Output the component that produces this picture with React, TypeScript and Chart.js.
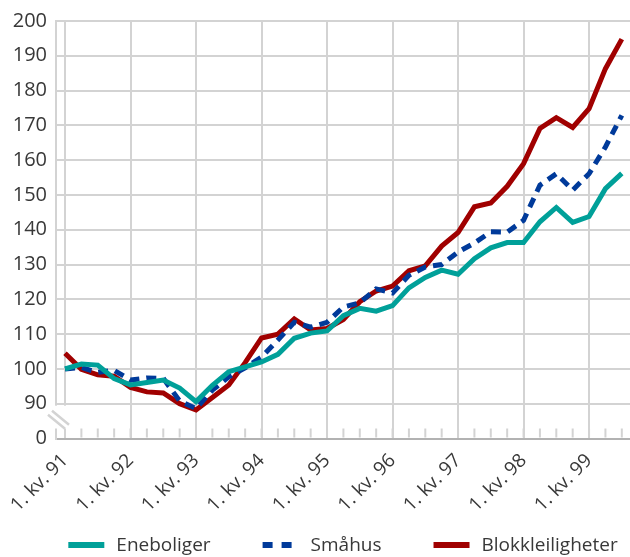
import { useEffect, useRef } from 'react';
import { Chart, registerables } from 'chart.js';

Chart.register(...registerables);

const FONT = "'Open Sans', 'Noto Sans', sans-serif";
const TEXT = '#383838';
const GRID = '#d3d3d3';
const AXIS = '#b2b2b2';

// Years on the axis (1st quarter of each year is labelled)
const years = ['91', '92', '93', '94', '95', '96', '97', '98', '99'];
const quarters = ['1', '2', '3', '4'];
// 1. kv. 91 .. 3. kv. 99 (35 quarters)
const quarterLabels = years
  .flatMap((y) => quarters.map((q) => `${q}. kv. ${y}`))
  .slice(0, 35);

const seriesNames = ['Eneboliger', 'Småhus', 'Blokkleiligheter'];
const seriesColors = ['#00a099', '#003a9a', '#a00000'];

const eneboliger = [
  100, 101.4, 101.1, 97.2, 95.4, 96.1, 96.8, 94.5, 90.6, 95.3, 99.2, 100.6,
  102, 104.2, 108.8, 110.3, 110.9, 115.3, 117.4, 116.6, 118.2, 123.3, 126.3,
  128.4, 127.2, 131.7, 134.8, 136.3, 136.3, 142.3, 146.4, 142.1, 143.8, 151.8,
  156.2,
];
const smahus = [
  100, 100.4, 99, 99.6, 96.8, 97.4, 97.3, 90.8, 88.6, 93.9, 97.7, 100.3,
  103.4, 108.3, 113.4, 112, 113.4, 117.8, 119, 123, 121.8, 126.9, 129.3, 130,
  133.6, 136.2, 139.4, 139.3, 142.7, 152.8, 156.1, 151.4, 156.1, 163.8, 172.9,
];
const blokkleiligheter = [
  104.5, 99.9, 98.3, 97.9, 94.7, 93.4, 93.1, 90, 88.2, 91.8, 95.4, 101.8,
  108.9, 110, 114.4, 111.2, 111.6, 114.2, 119.3, 122.4, 123.8, 128.2, 129.6,
  135.3, 139.2, 146.6, 147.7, 152.5, 159, 169.1, 172.2, 169.4, 174.8, 186.3,
  194.8,
];

// Y axis: broken axis, the bottom value is shown as "0"
const yMin = 80;
const yMax = 200;
const yStep = 10;
const yBreakLabel = '0';

const LEGEND_FONT_SIZE = 19;
const LEGEND_SAMPLE = 36;
const LEGEND_TEXT_GAP = 12;
const LEGEND_ITEM_GAP = 52;
const LEGEND_Y = 545;

const breakPlugin = {
  id: 'quarterTicksAndBreak',
  afterDraw(chart: any) {
    const { ctx } = chart;
    const x = chart.scales.x;
    const y = chart.scales.y;
    const bottom = y.getPixelForValue(yMin);
    const y90 = y.getPixelForValue(yMin + yStep);
    ctx.save();
    // minor quarter ticks
    ctx.strokeStyle = GRID;
    ctx.lineWidth = 2;
    quarterLabels.forEach((_, i) => {
      const px = x.getPixelForValue(i);
      ctx.beginPath();
      ctx.moveTo(px, bottom - 1);
      ctx.lineTo(px, bottom - 10);
      ctx.stroke();
    });
    // axis break
    const left = chart.chartArea.left;
    ctx.fillStyle = '#ffffff';
    ctx.fillRect(left - 8, y90 + 2, 26, bottom - 10 - (y90 + 2));
    ctx.strokeStyle = GRID;
    ctx.lineWidth = 2.5;
    ctx.beginPath();
    ctx.moveTo(left - 4, y90 + 7);
    ctx.lineTo(left + 13, y90 + 21);
    ctx.moveTo(left - 8, y90 + 11);
    ctx.lineTo(left + 9, y90 + 25);
    ctx.stroke();
    ctx.restore();
  },
};

const legendPlugin = {
  id: 'lineLegend',
  afterDraw(chart: any) {
    const { ctx, chartArea } = chart;
    const ds = chart.data.datasets;
    ctx.save();
    ctx.font = `${LEGEND_FONT_SIZE}px ${FONT}`;
    const widths = ds.map((d: any) => ctx.measureText(d.label).width);
    const total =
      widths.reduce((a: number, b: number) => a + b, 0) +
      ds.length * (LEGEND_SAMPLE + LEGEND_TEXT_GAP) +
      (ds.length - 1) * LEGEND_ITEM_GAP;
    let cx = (chartArea.left + chartArea.right) / 2 - total / 2;
    ds.forEach((d: any, i: number) => {
      ctx.strokeStyle = d.borderColor;
      ctx.lineWidth = 6;
      ctx.lineCap = 'butt';
      ctx.setLineDash(i === 1 ? [10, 9] : []);
      ctx.beginPath();
      ctx.moveTo(cx, LEGEND_Y);
      ctx.lineTo(cx + LEGEND_SAMPLE, LEGEND_Y);
      ctx.stroke();
      ctx.setLineDash([]);
      ctx.fillStyle = TEXT;
      ctx.textAlign = 'left';
      ctx.textBaseline = 'middle';
      ctx.fillText(d.label, cx + LEGEND_SAMPLE + LEGEND_TEXT_GAP, LEGEND_Y + 1);
      cx += LEGEND_SAMPLE + LEGEND_TEXT_GAP + widths[i] + LEGEND_ITEM_GAP;
    });
    ctx.restore();
  },
};

export default function App() {
  const ref = useRef<HTMLCanvasElement>(null);

  useEffect(() => {
    if (!ref.current) return;
    const series = [eneboliger, smahus, blokkleiligheter];
    const chart = new Chart(ref.current, {
      type: 'line',
      data: {
        datasets: series.map((vals, si) => ({
          label: seriesNames[si],
          data: vals.map((v, i) => ({ x: i, y: v })),
          borderColor: seriesColors[si],
          backgroundColor: seriesColors[si],
          borderWidth: 5,
          borderDash: si === 1 ? [10, 7] : [],
          borderCapStyle: 'butt',
          borderJoinStyle: 'miter',
          pointRadius: 0,
          pointHoverRadius: 0,
          tension: 0,
          fill: false,
        })),
      },
      options: {
        responsive: false,
        animation: false,
        events: [],
        layout: { padding: { top: 21, right: 0, bottom: 38.5, left: 0 } },
        plugins: {
          tooltip: { enabled: false },
          legend: { display: false },
        },
        scales: {
          x: {
            type: 'linear',
            min: -0.55,
            max: 34.5,
            afterBuildTicks: (s: any) => {
              s.ticks = quarterLabels.map((_, i) => ({ value: i }));
            },
            afterFit: (s: any) => {
              s.height = 80;
              s.paddingLeft = 0;
              s.paddingRight = 0;
            },
            grid: {
              drawTicks: false,
              lineWidth: 2,
              color: (ctx: any) =>
                ctx.tick && ctx.tick.value % 4 === 0 ? GRID : 'rgba(0,0,0,0)',
            },
            border: { display: true, color: AXIS, width: 2 },
            ticks: {
              autoSkip: false,
              minRotation: 45,
              maxRotation: 45,
              padding: 11,
              color: TEXT,
              font: { family: FONT, size: 19 },
              callback: (v: any) => (v % 4 === 0 ? '1. kv. ' + years[v / 4] : ''),
            },
          },
          y: {
            min: yMin,
            max: yMax,
            afterFit: (s: any) => {
              s.width = 56;
              s.paddingTop = 0;
              s.paddingBottom = 0;
            },
            grid: {
              drawTicks: false,
              lineWidth: 2,
              color: (ctx: any) =>
                ctx.tick && ctx.tick.value === yMin ? 'rgba(0,0,0,0)' : GRID,
            },
            border: { display: true, color: GRID, width: 2 },
            ticks: {
              stepSize: yStep,
              padding: 9,
              color: TEXT,
              font: { family: FONT, size: 20 },
              callback: (v: any) => (v === yMin ? yBreakLabel : String(v)),
            },
          },
        },
      },
      plugins: [breakPlugin, legendPlugin],
    } as any);
    return () => chart.destroy();
  }, []);

  return (
    <div style={{ position: 'fixed', left: 0, top: 0, width: 630, height: 557, background: '#fff' }}>
      <canvas ref={ref} width={630} height={557} style={{ display: 'block' }} />
    </div>
  );
}
